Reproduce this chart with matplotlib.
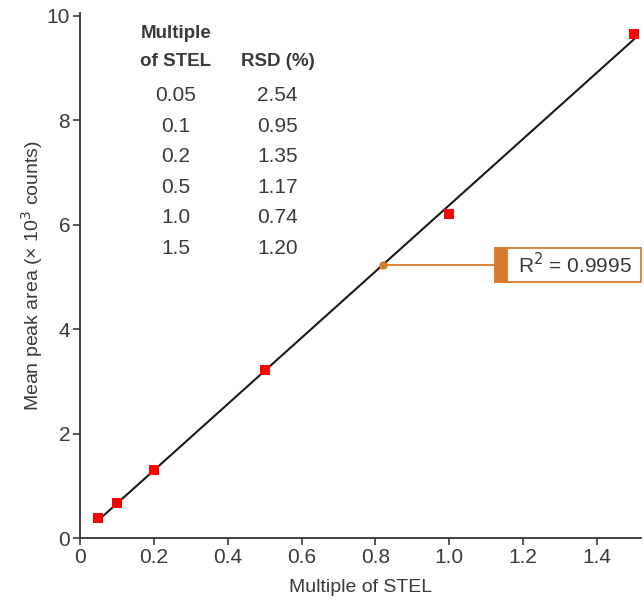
"""
Calibration plot: mean peak area vs multiple of STEL, with RSD table and R^2 callout.
"""
import numpy as np
import matplotlib
matplotlib.use("Agg")
import matplotlib.pyplot as plt
from matplotlib.patches import Rectangle

plt.rcParams["font.family"] = ["Liberation Sans", "DejaVu Sans"]

# Data
stel = [0.05, 0.1, 0.2, 0.5, 1.0, 1.5]
peak_area = [0.38, 0.67, 1.30, 3.22, 6.20, 9.66]
rsd = ["2.54", "0.95", "1.35", "1.17", "0.74", "1.20"]
stel_labels = ["0.05", "0.1", "0.2", "0.5", "1.0", "1.5"]
r2_text = "R$^2$ = 0.9995"

TXT = "#3a3a3a"
ORANGE = "#d97a2b"

fig = plt.figure(figsize=(6.44, 6.00), dpi=100)
ax = fig.add_axes([0.124, 0.103, 0.872, 0.875])

# Linear fit line
slope, icpt = np.polyfit(stel, peak_area, 1)
xs = np.array([stel[0], stel[-1]])
ax.plot(xs, slope * xs + icpt, color="#1a1a1a", lw=1.5, zorder=2)

ax.scatter(stel, peak_area, marker="s", s=60, color="#ff0000", zorder=3, linewidths=0)

ax.set_xlim(0, 1.52)
ax.set_ylim(0, 10.05)
ax.set_xticks([0, 0.2, 0.4, 0.6, 0.8, 1.0, 1.2, 1.4])
ax.set_xticklabels(["0", "0.2", "0.4", "0.6", "0.8", "1.0", "1.2", "1.4"])
ax.set_yticks([0, 2, 4, 6, 8, 10])
ax.tick_params(colors=TXT, labelsize=15, length=5, width=1.2, direction="out", pad=2)
for s in ("top", "right"):
    ax.spines[s].set_visible(False)
for s in ("left", "bottom"):
    ax.spines[s].set_color("#333333")
    ax.spines[s].set_linewidth(1.3)

ax.set_xlabel("Multiple of STEL", fontsize=14, color=TXT, labelpad=9)
ax.set_ylabel("Mean peak area (\u00d7 10$^3$ counts)", fontsize=14, color=TXT, labelpad=1)

# RSD table
tx1, tx2 = 0.26, 0.535
ax.text(tx1, 9.66, "Multiple", ha="center", va="center", fontsize=13.5, fontweight="bold", color=TXT)
ax.text(tx1, 9.12, "of STEL", ha="center", va="center", fontsize=13.5, fontweight="bold", color=TXT)
ax.text(tx2, 9.12, "RSD (%)", ha="center", va="center", fontsize=13.5, fontweight="bold", color=TXT)
row_y = [8.48, 7.89, 7.30, 6.71, 6.13, 5.55]
for lab, val, y in zip(stel_labels, rsd, row_y):
    ax.text(tx1, y, lab, ha="center", va="center", fontsize=15, color=TXT)
    ax.text(tx2, y, val, ha="center", va="center", fontsize=15, color=TXT)

# R^2 callout
px = 0.82
py = slope * px + icpt
ax.plot([px], [py], "o", color=ORANGE, ms=5, zorder=4)
ax.plot([px, 1.125], [py, py], color=ORANGE, lw=1.3, zorder=1)
box_h = 0.66
ax.add_patch(Rectangle((1.125, py - box_h / 2), 0.395, box_h, facecolor="white",
                       edgecolor=ORANGE, lw=1.3, zorder=4, clip_on=False))
ax.add_patch(Rectangle((1.125, py - box_h / 2), 0.032, box_h, facecolor=ORANGE,
                       edgecolor=ORANGE, lw=1.3, zorder=5, clip_on=False))
ax.text(1.34, py, r2_text, ha="center", va="center", fontsize=15, color=TXT, zorder=6)

fig.savefig("out.png", dpi=100)
